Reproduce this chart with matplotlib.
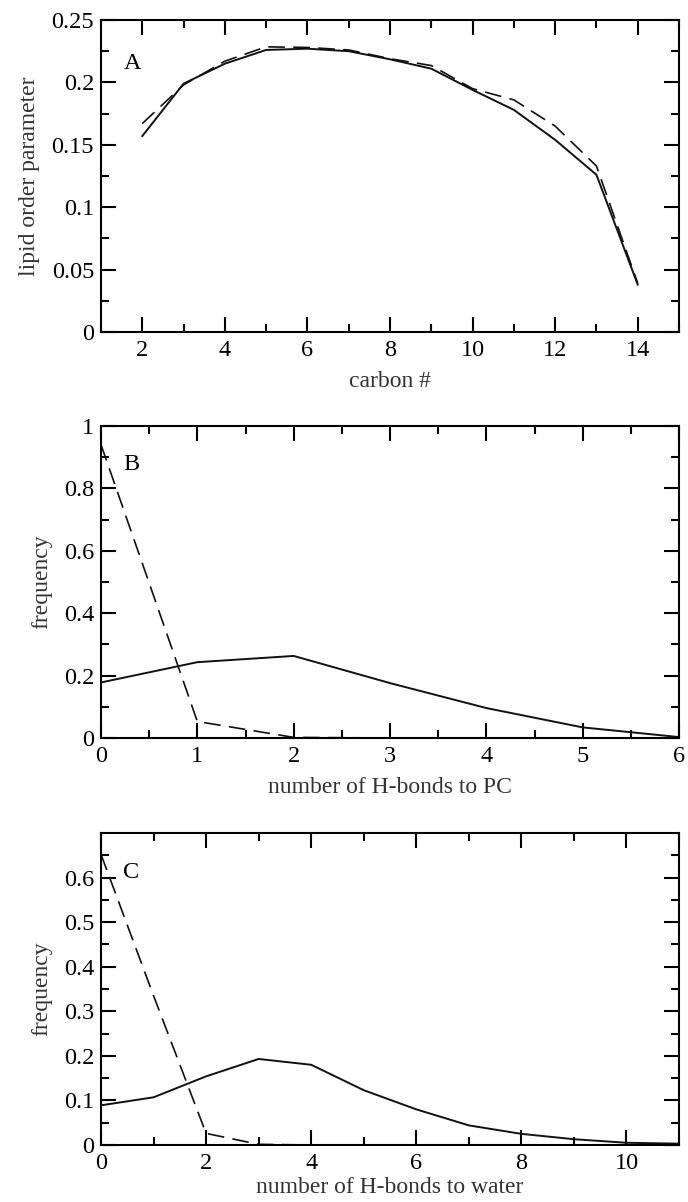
import matplotlib
matplotlib.use("Agg")
import matplotlib.pyplot as plt
from matplotlib.ticker import MultipleLocator, FixedLocator

plt.rcParams['font.family'] = ['Liberation Serif', 'DejaVu Serif']

# Panel A: lipid order parameter vs carbon number
carbon = [2, 3, 4, 5, 6, 7, 8, 9, 10, 11, 12, 13, 14]
order_solid = [0.157, 0.199, 0.215, 0.226, 0.227, 0.225, 0.2185, 0.211, 0.194, 0.178, 0.154, 0.126, 0.038]
order_dashed = [0.167, 0.198, 0.217, 0.2285, 0.228, 0.226, 0.219, 0.2135, 0.195, 0.186, 0.165, 0.133, 0.039]

# Panel B: H-bonds to PC
hb_pc = [0, 1, 2, 3, 4, 5, 6]
freq_pc_solid = [0.178, 0.243, 0.263, 0.176, 0.096, 0.034, 0.003]
freq_pc_dashed = [0.94, 0.053, 0.002, 0.0, 0.0, 0.0, 0.0]

# Panel C: H-bonds to water
hb_w = [0, 1, 2, 3, 4, 5, 6, 7, 8, 9, 10, 11]
freq_w_solid = [0.089, 0.107, 0.154, 0.193, 0.180, 0.123, 0.080, 0.044, 0.025, 0.013, 0.005, 0.003]
freq_w_dashed = [0.652, 0.335, 0.026, 0.0015, 0.0, 0.0, 0.0, 0.0, 0.0, 0.0, 0.0, 0.0]

FS_T = 17.5
FS_L = 17
LBL = '#333333'
W, H = 688, 1202
fig = plt.figure(figsize=(W / 100, H / 100), dpi=100)

def make_ax(top_px, bottom_px):
    return fig.add_axes([101 / W, 1 - bottom_px / H, 578 / W, (bottom_px - top_px) / H])

def style(ax):
    for s in ax.spines.values():
        s.set_linewidth(1.5)
    ax.tick_params(which='both', direction='in', top=True, right=True, width=1.5,
                   labelsize=FS_T)
    ax.tick_params(which='major', length=10.5)
    ax.tick_params(which='minor', length=5.5)
    ax.tick_params(axis='x', pad=6)
    ax.tick_params(axis='y', pad=5)

solid_kw = dict(color='#111111', lw=1.4)
dash_kw = dict(color='#111111', lw=1.2, dashes=[10, 5])

# A
axA = make_ax(20, 332)
axA.plot(carbon, order_solid, **solid_kw)
axA.plot(carbon, order_dashed, **dash_kw)
axA.set_xlim(1, 15)
axA.set_ylim(0, 0.25)
axA.xaxis.set_major_locator(FixedLocator([2, 4, 6, 8, 10, 12, 14]))
axA.xaxis.set_minor_locator(FixedLocator([1, 3, 5, 7, 9, 11, 13, 15]))
axA.set_yticks([0, 0.05, 0.1, 0.15, 0.2, 0.25])
axA.set_yticklabels(['0', '0.05', '0.1', '0.15', '0.2', '0.25'])
axA.yaxis.set_minor_locator(MultipleLocator(0.025))
axA.set_xlabel('carbon #', fontsize=FS_L, color=LBL, labelpad=7)
axA.set_ylabel('lipid order parameter', fontsize=FS_L, color=LBL, labelpad=8)
axA.text(0.054, 0.862, 'A', transform=axA.transAxes, fontsize=FS_T, ha='center', va='center')
style(axA)

# B
axB = make_ax(426, 738)
axB.plot(hb_pc, freq_pc_solid, **solid_kw)
axB.plot(hb_pc, freq_pc_dashed, **dash_kw)
axB.set_xlim(0, 6)
axB.set_ylim(0, 1)
axB.xaxis.set_major_locator(MultipleLocator(1))
axB.xaxis.set_minor_locator(MultipleLocator(0.5))
axB.set_yticks([0, 0.2, 0.4, 0.6, 0.8, 1.0])
axB.set_yticklabels(['0', '0.2', '0.4', '0.6', '0.8', '1'])
axB.yaxis.set_minor_locator(MultipleLocator(0.1))
axB.set_xlabel('number of H-bonds to PC', fontsize=FS_L, color=LBL, labelpad=7)
axB.set_ylabel('frequency', fontsize=FS_L, color=LBL, labelpad=8)
axB.text(0.052, 0.878, 'B', transform=axB.transAxes, fontsize=FS_T, ha='center', va='center')
style(axB)

# C
axC = make_ax(833, 1145)
axC.plot(hb_w, freq_w_solid, **solid_kw)
axC.plot(hb_w, freq_w_dashed, **dash_kw)
axC.set_xlim(0, 11)
axC.set_ylim(0, 0.7)
axC.xaxis.set_major_locator(FixedLocator([0, 2, 4, 6, 8, 10]))
axC.xaxis.set_minor_locator(FixedLocator([1, 3, 5, 7, 9, 11]))
axC.set_yticks([0, 0.1, 0.2, 0.3, 0.4, 0.5, 0.6])
axC.set_yticklabels(['0', '0.1', '0.2', '0.3', '0.4', '0.5', '0.6'])
axC.yaxis.set_minor_locator(FixedLocator([0.05, 0.15, 0.25, 0.35, 0.45, 0.55, 0.65]))
axC.set_xlabel('number of H-bonds to water', fontsize=FS_L, color=LBL, labelpad=2)
axC.set_ylabel('frequency', fontsize=FS_L, color=LBL, labelpad=8)
axC.text(0.052, 0.875, 'C', transform=axC.transAxes, fontsize=FS_T, ha='center', va='center')
style(axC)

fig.savefig('out.png', dpi=100)
